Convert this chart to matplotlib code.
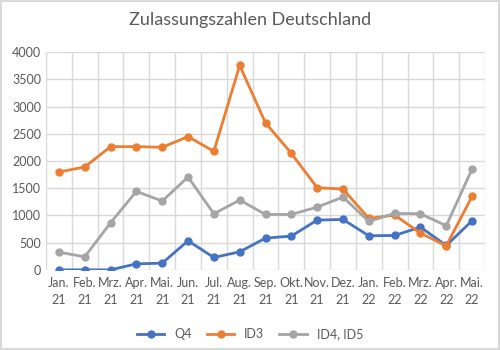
import numpy as np
from matplotlib import pyplot as plt

months = ["Jan.\n21", "Feb.\n21", "Mrz.\n21", "Apr.\n21", "Mai.\n21", "Jun.\n21",
          "Jul.\n21", "Aug.\n21", "Sep.\n21", "Okt.\n21", "Nov.\n21", "Dez.\n21",
          "Jan.\n22", "Feb.\n22", "Mrz.\n22", "Apr.\n22", "Mai.\n22"]
q4 = [0, 0, 0, 110, 123, 534, 227, 331, 583, 620, 914, 926, 626, 632, 785, 448, 902]
id3 = [1798, 1890, 2264, 2264, 2252, 2448, 2178, 3755, 2700, 2141, 1509, 1485,
       945, 1006, 675, 442, 1350]
id45 = [325, 239, 865, 1442, 1264, 1706, 1031, 1282, 1018, 1018, 1153, 1337,
        890, 1037, 1031, 810, 1853]

plt.rcParams['font.family'] = ['Lato', 'DejaVu Sans']
txt = "#595959"
grid = "#D9D9D9"

fig = plt.figure(figsize=(5, 3.5), dpi=100)
fig.patch.set_edgecolor(grid)
fig.patch.set_linewidth(1.5)
ax = fig.add_axes([0.092, 0.229, 0.878, 0.622])

x = np.arange(len(months))
ax.plot(x, q4, color="#4472C4", lw=2, marker="o", ms=5, label="Q4", zorder=3)
ax.plot(x, id3, color="#ED7D31", lw=2, marker="o", ms=5, label="ID3", zorder=3)
ax.plot(x, id45, color="#A5A5A5", lw=2, marker="o", ms=5, label="ID4, ID5", zorder=3)

ax.set_xlim(-0.5, len(months) - 0.5)
ax.set_ylim(0, 4000)
ax.set_yticks(range(0, 4001, 500))
ax.set_xticks(x)
ax.set_xticklabels(months, linespacing=1.5)
ax.set_xticks(np.arange(-0.5, len(months), 1), minor=True)
ax.grid(True, which="minor", axis="x", color=grid, lw=1)
ax.grid(True, which="major", axis="y", color=grid, lw=1)
ax.set_axisbelow(True)
ax.tick_params(which="both", length=0, colors=txt, labelsize=9)
ax.tick_params(axis="x", pad=5)
for s in ax.spines.values():
    s.set_visible(False)

fig.suptitle("Zulassungszahlen Deutschland", y=0.965, fontsize=13, color=txt)
leg = fig.legend(loc="lower center", ncol=3, bbox_to_anchor=(0.5, -0.005), frameon=False,
                 fontsize=9, labelcolor=txt, handlelength=2.2, columnspacing=1.2)

fig.savefig("out.png", dpi=100)
